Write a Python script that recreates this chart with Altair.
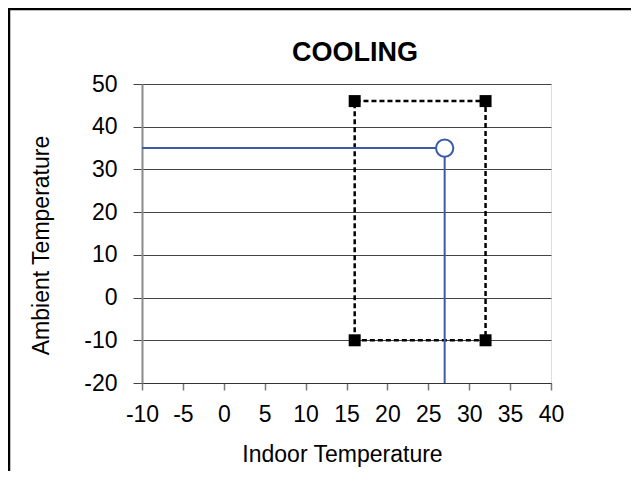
import altair as alt
import pandas as pd

# ---- data ----
title_text = ["COOLING"]
rect_x = [16, 16, 32, 32, 16]
rect_y = [-10, 46, 46, -10, -10]
corner_x = [16, 16, 32, 32]
corner_y = [-10, 46, 46, -10]
op_x = [-10, 27, 27]
op_y = [35, 35, -20]
point_x = [27]
point_y = [35]
x_ticks = list(range(-10, 41, 5))
y_ticks = list(range(-20, 51, 10))

rect_df = pd.DataFrame({"x": rect_x, "y": rect_y, "o": list(range(len(rect_x)))})
corner_df = pd.DataFrame({"x": corner_x, "y": corner_y})
op_df = pd.DataFrame({"x": op_x, "y": op_y, "o": list(range(len(op_x)))})
pt_df = pd.DataFrame({"x": point_x, "y": point_y})
title_df = pd.DataFrame({"t": title_text})

BLUE = "#3B5BA9"
FONT = "Liberation Sans"

xscale = alt.Scale(domain=[-10, 40], nice=False, zero=False)
yscale = alt.Scale(domain=[-20, 50], nice=False, zero=False)

xaxis = alt.Axis(
    title="Indoor Temperature", values=x_ticks, grid=False,
    labelOverlap=False, labelFlush=False, labelExpr="toString(datum.value)",
    domainColor="#333", domainWidth=1, tickColor="#777", tickSize=7, tickWidth=1.5,
    labelFontSize=23, labelPadding=13, labelColor="#000", labelFont=FONT,
    titleFontSize=23, titleFontWeight="normal", titleFont=FONT, titleColor="#000",
    titleX=200, titleY=60, titleAlign="center", titleBaseline="top",
)
yaxis = alt.Axis(
    title="Ambient Temperature", values=y_ticks, grid=True,
    labelOverlap=False, labelFlush=False, labelExpr="toString(datum.value)",
    gridColor="#444", gridWidth=1, gridOpacity=1,
    domainColor="#8a8a8a", domainWidth=2, tickColor="#444", tickSize=9, tickWidth=1,
    labelFontSize=23, labelPadding=16, labelColor="#000", labelFont=FONT,
    titleFontSize=23, titleFontWeight="normal", titleFont=FONT, titleColor="#000",
    titleX=-94, titleY=161, titleAngle=-90, titleAlign="center", titleBaseline="alphabetic",
)

base_x = alt.X("x:Q", scale=xscale, axis=xaxis)
base_y = alt.Y("y:Q", scale=yscale, axis=yaxis)

rect_line = alt.Chart(rect_df).mark_line(
    color="#000", strokeWidth=2.5, strokeDash=[5, 3]
).encode(x=base_x, y=base_y, order="o:Q")

corners = alt.Chart(corner_df).mark_point(
    shape="square", size=144, filled=True, color="#000", opacity=1
).encode(x="x:Q", y="y:Q")

op_line = alt.Chart(op_df).mark_line(color=BLUE, strokeWidth=2).encode(
    x="x:Q", y="y:Q", order="o:Q"
)

op_point = alt.Chart(pt_df).mark_point(
    shape="circle", size=300, filled=True, fill="white", stroke=BLUE,
    strokeWidth=2, opacity=1
).encode(x="x:Q", y="y:Q")

title = alt.Chart(title_df).mark_text(
    font=FONT, fontSize=27, fontWeight="bold", color="#000",
    align="center", baseline="alphabetic"
).encode(text="t:N", x=alt.value(213), y=alt.value(-23))

# outer frame lines (page border)
frame_top = alt.Chart(pd.DataFrame({"a": [0]})).mark_rule(
    color="#000", strokeWidth=2.5
).encode(x=alt.value(-134), x2=alt.value(500), y=alt.value(-75))
frame_left = alt.Chart(pd.DataFrame({"a": [0]})).mark_rule(
    color="#000", strokeWidth=2.5
).encode(x=alt.value(-133), y=alt.value(-76), y2=alt.value(400))

chart = alt.layer(
    rect_line, op_line, corners, op_point, title, frame_top, frame_left
).properties(
    width=409, height=299,
    autosize=alt.AutoSizeParams(type="none"),
    padding={"left": 134, "top": 76, "right": 80, "bottom": 88},
).configure_view(stroke=None).configure(font=FONT)

chart.save("out.html", embed_options={"renderer": "svg", "actions": False})
